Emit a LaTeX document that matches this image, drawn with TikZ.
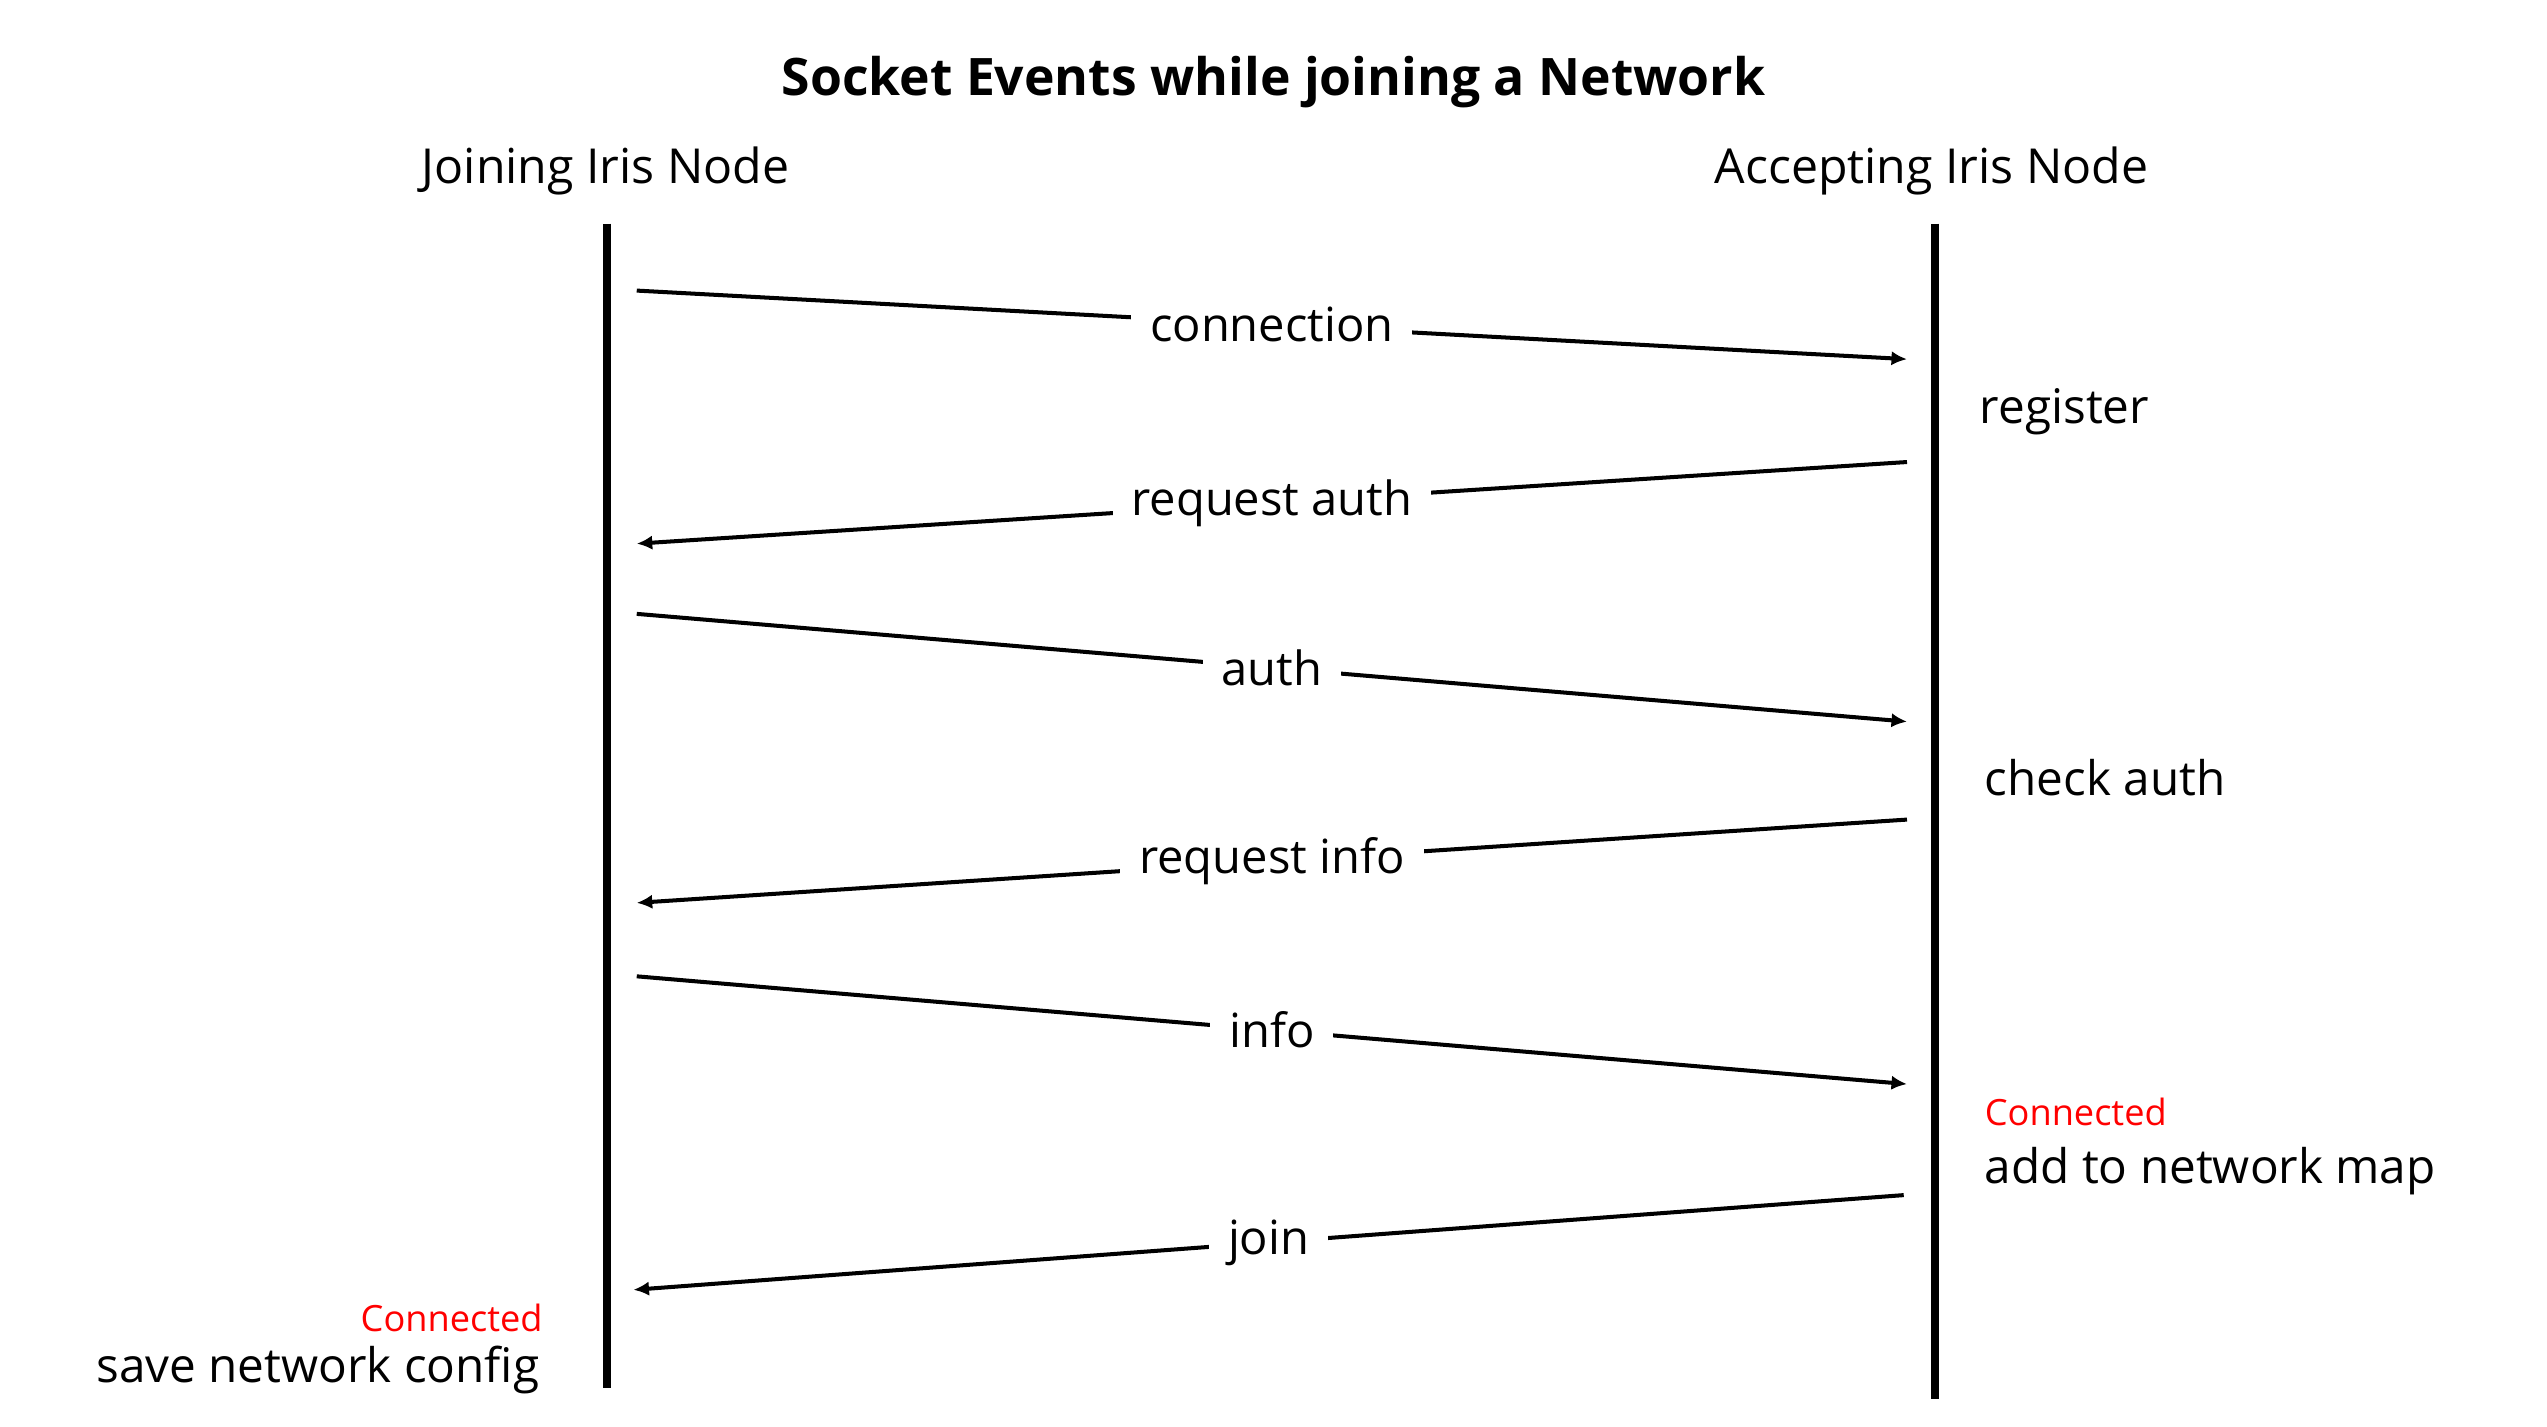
\documentclass[tikz,border=0pt]{standalone}
\usepackage{fontspec}
\setmainfont{Open Sans}
\usetikzlibrary{arrows.meta}

\begin{document}
\begin{tikzpicture}[x=0.01cm,y=-0.01cm,
  lifeline/.style={line width=1.4pt},
  msg/.style={-{Latex[length=2.7pt,width=2.5pt]},line width=0.7pt},
  msglabel/.style={fill=white,inner xsep=3.3pt,inner ysep=1.5pt,font=\fontsize{8.2}{10}\selectfont},
  event/.style={font=\fontsize{8.3}{10}\selectfont,inner sep=0pt},
  state/.style={font=\fontsize{6.3}{7.5}\selectfont,text=red,inner sep=0pt}]
\useasboundingbox (0,0) rectangle (1560,874);
% title and column heads
\node[font=\fontsize{9}{11}\bfseries\selectfont] (title) at (780,50) {Socket Events while joining a Network};
\node[font=\fontsize{8.4}{10}\selectfont] (joining) at (371,105) {Joining Iris Node};
\node[font=\fontsize{8.4}{10}\selectfont] (accepting) at (1183,105) {Accepting Iris Node};
% lifelines
\coordinate (jtop) at (372,137);
\coordinate (jbot) at (372,850);
\coordinate (atop) at (1185,137);
\coordinate (abot) at (1185,857);
\draw[lifeline] (jtop) -- (jbot);
\draw[lifeline] (atop) -- (abot);
% message ends on the joining side
\coordinate (j1) at (390,178);
\coordinate (j2) at (390,333);
\coordinate (j3) at (390,376);
\coordinate (j4) at (390,553);
\coordinate (j5) at (390,598);
\coordinate (j6) at (388,790);
% message ends on the accepting side
\coordinate (a1) at (1168,220);
\coordinate (a2) at (1168,283);
\coordinate (a3) at (1168,442);
\coordinate (a4) at (1168,502);
\coordinate (a5) at (1168,664);
\coordinate (a6) at (1166,732);
% messages
\draw[msg] (j1) -- node[msglabel] (connection) {connection} (a1);
\draw[msg] (a2) -- node[msglabel] (reqauth) {request auth} (j2);
\draw[msg] (j3) -- node[msglabel] (auth) {auth} (a3);
\draw[msg] (a4) -- node[msglabel] (reqinfo) {request info} (j4);
\draw[msg] (j5) -- node[msglabel] (info) {info} (a5);
\draw[msg] (a6) -- node[msglabel] (join) {join} (j6);
% events on the accepting side
\node[event,anchor=west] (register) at (1212,252) {register};
\node[event,anchor=west] (checkauth) at (1215,476) {check auth};
\node[state,anchor=west] (aconnected) at (1215,681) {Connected};
\node[event,anchor=west] (addmap) at (1215,717) {add to network map};
% events on the joining side
\node[state,anchor=east] (jconnected) at (333,807) {Connected};
\node[event,anchor=east] (saveconfig) at (331,839) {save network config};
\end{tikzpicture}
\end{document}
